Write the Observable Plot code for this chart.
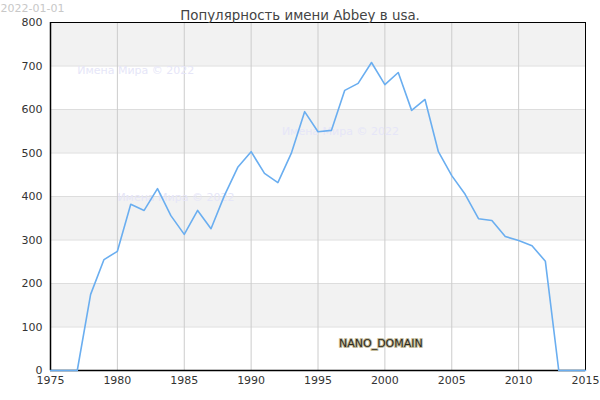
<!DOCTYPE html>
<html><head><meta charset="utf-8">
<script src="https://cdn.jsdelivr.net/npm/d3@7"></script>
<script src="https://cdn.jsdelivr.net/npm/@observablehq/plot@0.6"></script>
<style>
body{margin:0;background:#fff;font-family:"DejaVu Sans",sans-serif;}
#chart{position:relative;width:600px;height:400px;}
</style></head>
<body><div id="chart"></div>
<script>
const years = [1975,1976,1977,1978,1979,1980,1981,1982,1983,1984,1985,1986,1987,1988,1989,1990,1991,1992,1993,1994,1995,1996,1997,1998,1999,2000,2001,2002,2003,2004,2005,2006,2007,2008,2009,2010,2011,2012,2013,2014,2015];
const counts = [0,0,0,175,255,274,382,368,418,356,313,368,326,402,467,503,453,432,499,595,549,552,644,660,708,657,685,598,623,503,448,405,349,345,308,299,287,251,0,0,0];
const xTicks = [1975,1980,1985,1990,1995,2000,2005,2010,2015];
const yTicks = [0,100,200,300,400,500,600,700,800];
const bandStarts = [100,300,500,700];
const title = "Популярность имени Abbey в usa.";
const dateLabel = "2022-01-01";
const watermark = "Имена Мира © 2022";
const watermarks = [{x:1977,y:690},{x:1980,y:398},{x:1992.3,y:550}];
const brand = "NANO_DOMAIN";

const data = years.map((y,i)=>({year:y,count:counts[i]}));
const bands = bandStarts.map(b=>({y1:b,y2:b+100}));

const plot = Plot.plot({
  width:600, height:400,
  marginLeft:50, marginRight:15, marginTop:22, marginBottom:30,
  style:{fontFamily:"DejaVu Sans, sans-serif", fontSize:"11px", color:"#333", background:"#fff"},
  x:{domain:[1975,2015], ticks:xTicks, tickFormat:d=>String(d), tickSize:0, tickPadding:6, label:null},
  y:{domain:[0,800], ticks:yTicks, tickSize:0, tickPadding:8, label:null},
  marks:[
    Plot.rect(bands,{x1:1975,x2:2015,y1:"y1",y2:"y2",fill:"#f2f2f2"}),
    Plot.ruleY(yTicks,{stroke:"#dddddd",strokeWidth:1}),
    Plot.ruleX(xTicks,{stroke:"#cccccc",strokeWidth:1}),
    Plot.text(watermarks,{x:"x",y:"y",text:()=>watermark,textAnchor:"start",fill:"#e6e6f8",fontSize:11}),
    Plot.frame({stroke:"#000",strokeWidth:1}),
    Plot.ruleY([0],{stroke:"#000",strokeWidth:1.5}),
    Plot.ruleX([1975],{stroke:"#000",strokeWidth:1.5}),
    Plot.line(data,{x:"year",y:"count",stroke:"#6aaef0",strokeWidth:1.6}),
    Plot.text([brand],{x:1999.7,y:62,text:d=>d,fill:"#2e2a1c",stroke:"#c4bc9c",strokeWidth:2,paintOrder:"stroke",fontSize:11}),
    Plot.text([title],{frameAnchor:"top",dx:-18,dy:-12,text:d=>d,fontSize:13.4,fill:"#444"}),
    Plot.text([dateLabel],{frameAnchor:"top-left",dx:-50,dy:-18,textAnchor:"start",text:d=>d,fontSize:11,fill:"#c8c8c8"})
  ]
});
document.getElementById("chart").appendChild(plot);
</script>
</body></html>
